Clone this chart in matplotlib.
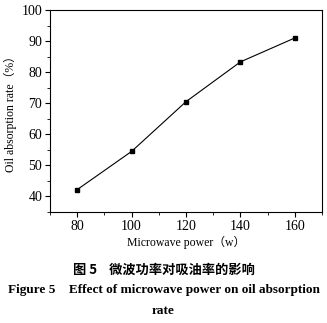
import matplotlib
matplotlib.use("Agg")
import matplotlib.pyplot as plt
from matplotlib.ticker import MultipleLocator

power = [80, 100, 120, 140, 160]
absorption = [42.2, 54.5, 70.5, 83.3, 91.0]
x_ticks = [80, 100, 120, 140, 160]
y_ticks = [40, 50, 60, 70, 80, 90, 100]

SERIF = ["Liberation Serif", "Noto Sans CJK SC"]
plt.rcParams["font.family"] = SERIF

fig = plt.figure(figsize=(3.27, 3.23), dpi=100)
ax = fig.add_axes([50 / 327, 111 / 323, 272 / 327, 202 / 323])

ax.plot(power, absorption, color="black", lw=0.8, marker="s", ms=3.5,
        mfc="black", mec="black")

ax.set_xlim(70, 170)
ax.set_ylim(35, 100)
ax.set_xticks(x_ticks)
ax.set_yticks(y_ticks)
ax.xaxis.set_minor_locator(MultipleLocator(10))
ax.yaxis.set_minor_locator(MultipleLocator(5))
ax.tick_params(which="major", direction="out", length=3.5, width=0.8,
               labelsize=10, top=False, right=False, pad=2)
ax.tick_params(which="minor", direction="out", length=2, width=0.6,
               top=False, right=False)
for s in ax.spines.values():
    s.set_linewidth(0.8)

ax.set_xlabel("Microwave power（w）", fontsize=8.5, labelpad=2)
ax.set_ylabel("Oil absorption rate（%）", fontsize=8.5, labelpad=3)

fig.text(0.5, 1 - 270 / 323, "图 5    微波功率对吸油率的影响", ha="center", va="center",
         fontsize=9.5, fontweight="bold", family=["Noto Sans CJK SC"])
fig.text(0.5, 1 - 290 / 323, "Figure 5    Effect of microwave power on oil absorption",
         ha="center", va="center", fontsize=9.5, fontweight="bold")
fig.text(0.5, 1 - 311 / 323, "rate", ha="center", va="center",
         fontsize=9.5, fontweight="bold")

fig.savefig("out.png", dpi=100)
